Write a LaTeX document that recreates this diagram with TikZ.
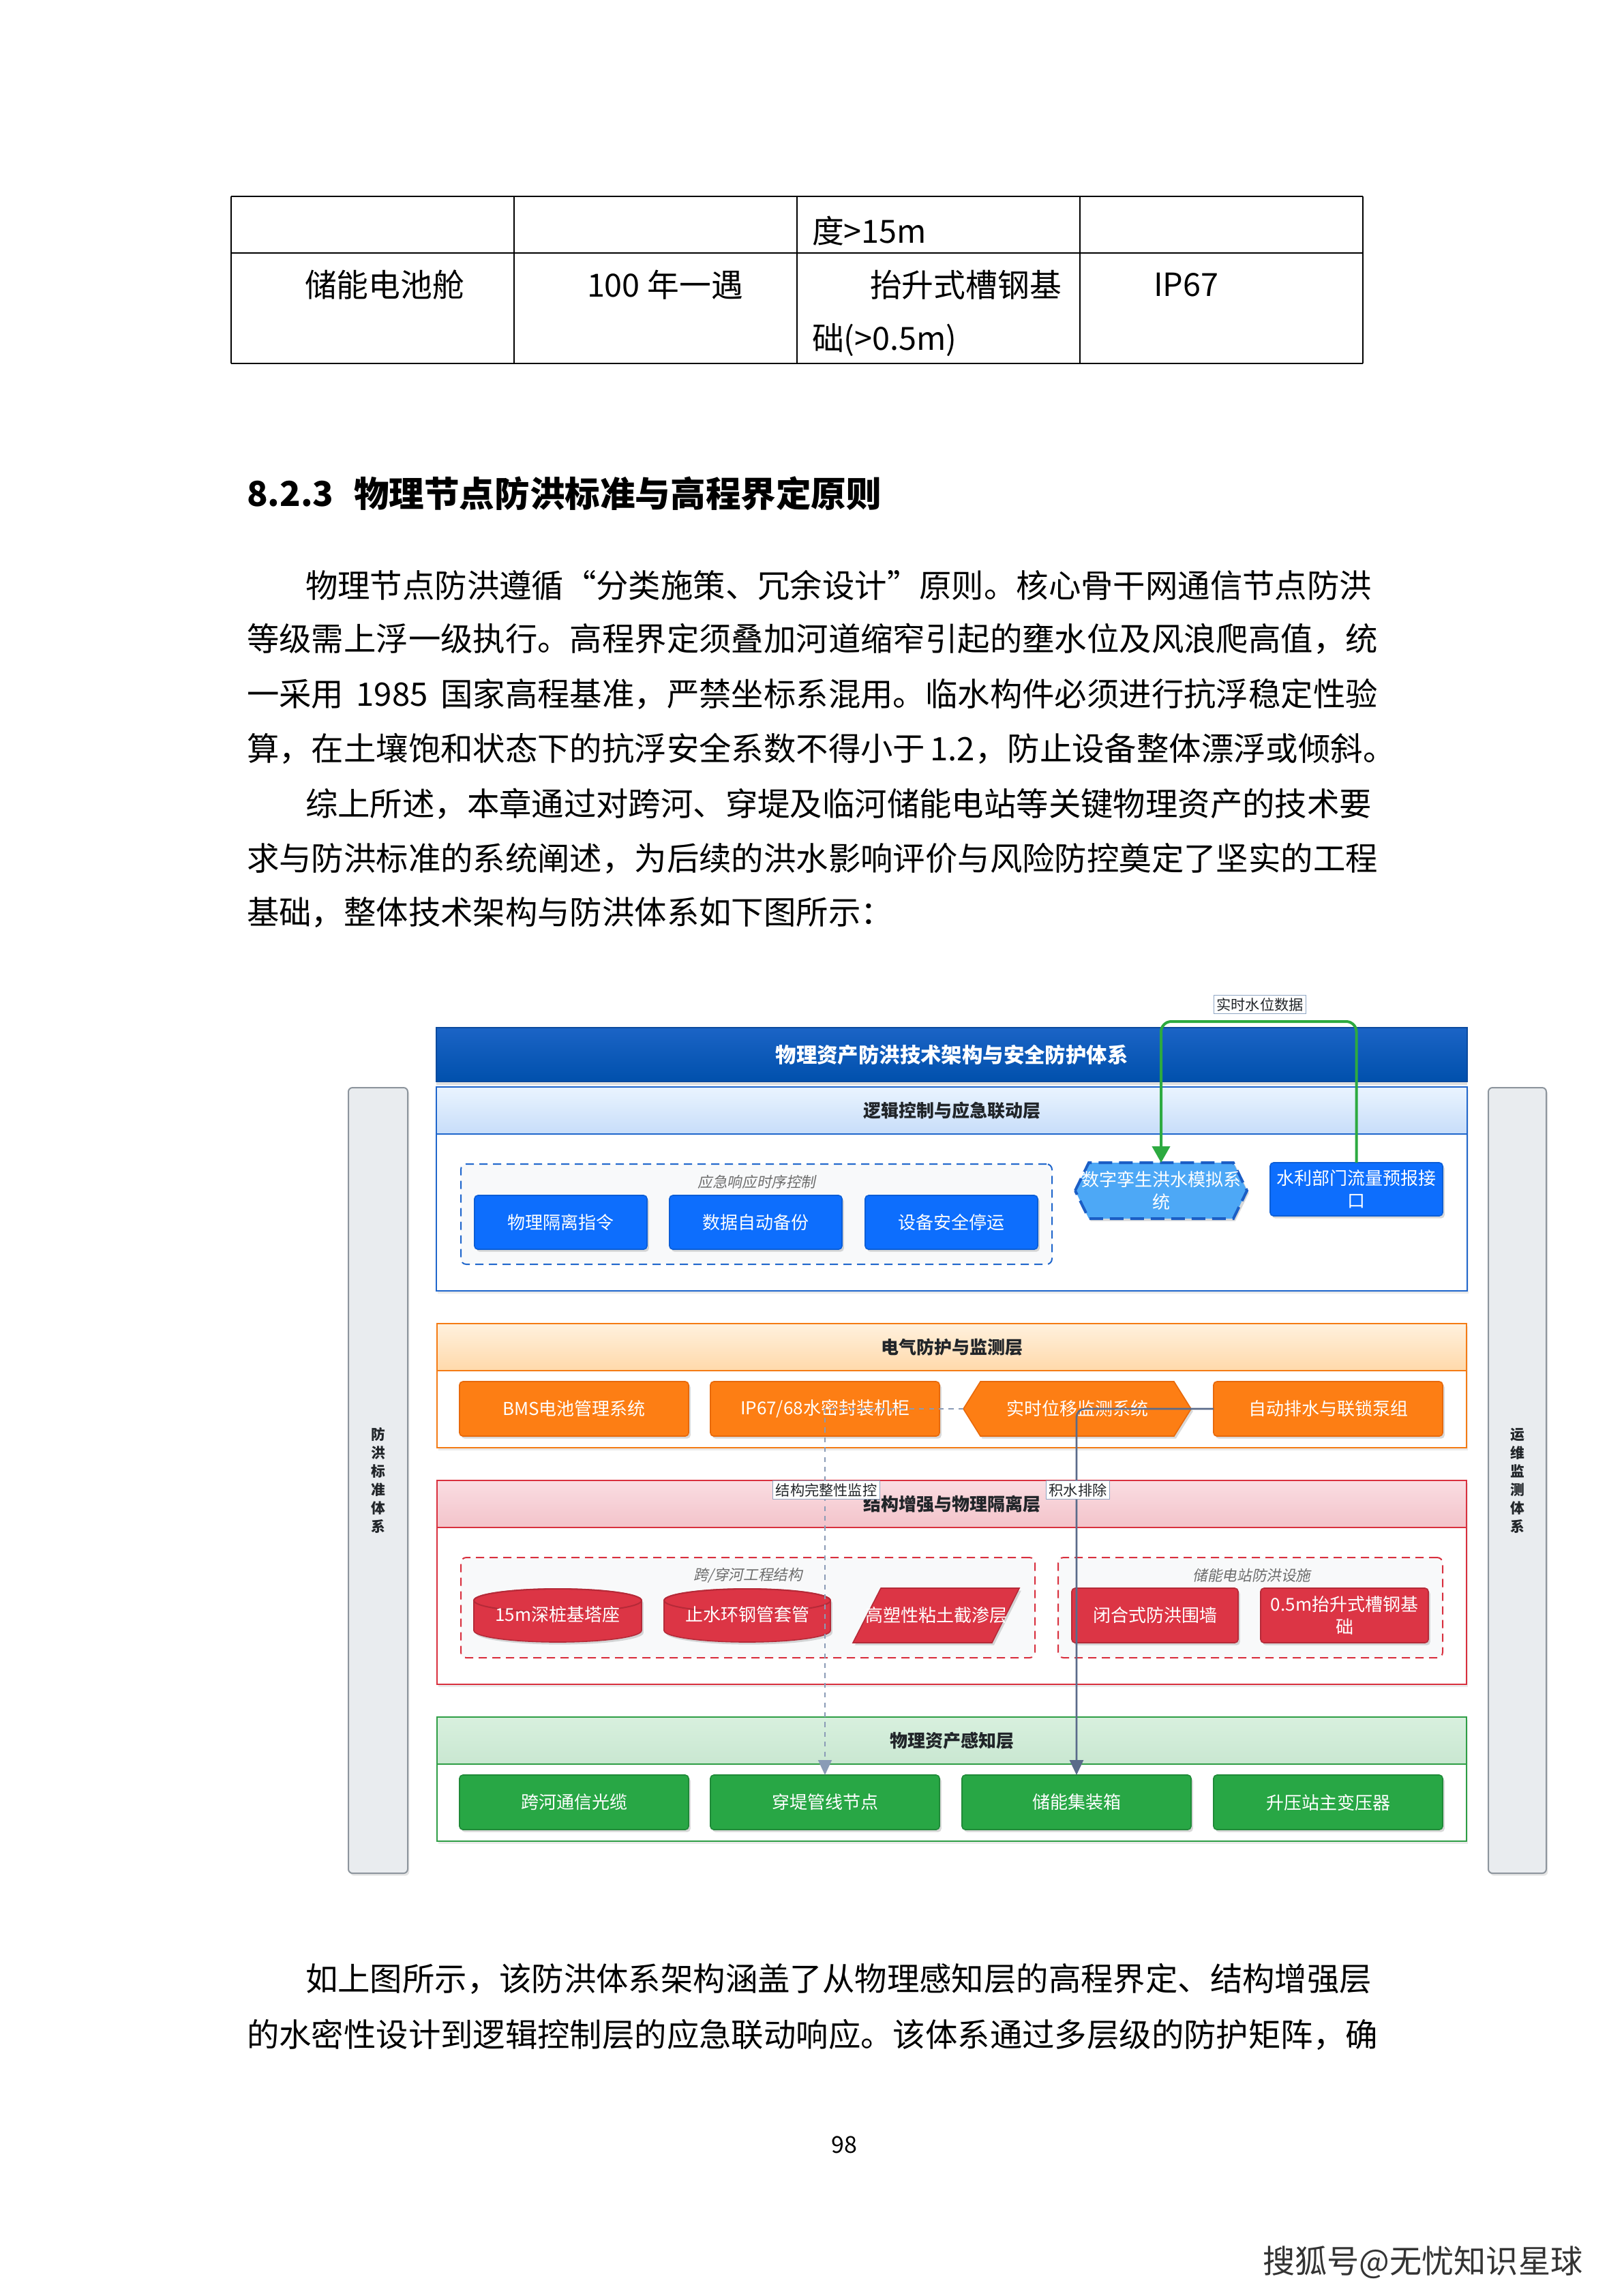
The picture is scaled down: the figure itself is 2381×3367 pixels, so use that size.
\documentclass[tikz,border=0pt]{standalone}
\usepackage{fontspec}
\setmainfont{Noto Sans CJK SC}
\newfontfamily\slcjk{Noto Sans CJK SC}[FakeSlant=0.2]
\usetikzlibrary{arrows.meta,shadows}
\newcommand\fsz[2]{\fontsize{#1}{#2}\selectfont}
\definecolor{ctext}{HTML}{212529}
\definecolor{ctitleA}{HTML}{1B64C6}
\definecolor{ctitleB}{HTML}{0050AC}
\definecolor{ctitleD}{HTML}{0B4A9E}
\definecolor{lbA}{HTML}{EAF4FF}
\definecolor{lbB}{HTML}{C7DDF9}
\definecolor{lbD}{HTML}{1F66CC}
\definecolor{cblue}{HTML}{0D6EFD}
\definecolor{cbluedk}{HTML}{0B5ED7}
\definecolor{hexblue}{HTML}{4DA8F6}
\definecolor{hexblueD}{HTML}{1B5EC5}
\definecolor{loA}{HTML}{FFF1DE}
\definecolor{loB}{HTML}{FFD9AA}
\definecolor{loD}{HTML}{F47B14}
\definecolor{corange}{HTML}{FD7E14}
\definecolor{corangeD}{HTML}{E8690A}
\definecolor{lrA}{HTML}{FADDE2}
\definecolor{lrB}{HTML}{F3C3CA}
\definecolor{lrD}{HTML}{D9303E}
\definecolor{cred}{HTML}{DC3545}
\definecolor{credD}{HTML}{B52A38}
\definecolor{lgA}{HTML}{D8F0DE}
\definecolor{lgB}{HTML}{C9E7D1}
\definecolor{lgD}{HTML}{2E9E45}
\definecolor{cgreen}{HTML}{28A745}
\definecolor{cgreenD}{HTML}{1F8A38}
\definecolor{cside}{HTML}{E9ECEF}
\definecolor{csideD}{HTML}{8D959D}
\definecolor{cgrp}{HTML}{F8F9FA}
\definecolor{cglab}{HTML}{6C6C6C}
\definecolor{cdash}{HTML}{8A9BB6}
\definecolor{cslate}{HTML}{5A6B8A}
\definecolor{cgline}{HTML}{2DAA40}
\definecolor{clabD}{HTML}{8FA6C4}
\definecolor{cmark}{HTML}{333333}
% style, x0, y0, x1, y1, name, text
\newcommand\mkbox[7]{\node[#1, minimum width={(#4-#2)*0.25pt}, minimum height={(#5-#3)*0.25pt}] (#6) at ({(#2+#4)/2},{(#3+#5)/2}) {#7};}
% style, x0, y0, x1, y1, indent
\newcommand\hexpath[6]{\path[#1] (#2,{(#3+#5)/2}) -- ({#2+#6},#3) -- ({#4-#6},#3) -- (#4,{(#3+#5)/2}) -- ({#4-#6},#5) -- ({#2+#6},#5) -- cycle;}
% x0, y0, x1, y1 (cylinder, end radius 16px)
\newcommand\cylpath[4]{%
\path[fill=cred, draw=credD, line width=0.4pt, drop shadow={opacity=0.3,shadow xshift=0.7pt,shadow yshift=-0.9pt}]
 (#1,{#4-17}) arc[start angle=180,end angle=360,x radius={(#3-#1)*0.125pt},y radius=4.25pt]
 -- (#3,{#2+17}) arc[start angle=0,end angle=180,x radius={(#3-#1)*0.125pt},y radius=4.25pt] -- cycle;
\draw[credD, line width=0.5pt] ({(#1+#3)/2},{#2+17}) ellipse[x radius={(#3-#1)*0.125pt},y radius=4.25pt];}
\begin{document}
\begin{tikzpicture}[x=0.25pt,y=-0.25pt,
 every node/.style={inner sep=0pt, outer sep=0pt},
 btext/.style={anchor=west, font=\fsz{11.85pt}{14pt}},
 ttext/.style={font=\fsz{11.7pt}{14pt}},
 tline/.style={line width=0.6pt, black},
 plainnode/.style={align=center},
 titlebar/.style={top color=ctitleA, bottom color=ctitleB, draw=ctitleD, line width=0.5pt, text=white, font=\bfseries\fsz{7.6pt}{9pt}, drop shadow={opacity=0.25,shadow xshift=0pt,shadow yshift=-1.2pt}},
 cont/.style={fill=white, line width=0.5pt, drop shadow={opacity=0.16,shadow xshift=0.6pt,shadow yshift=-0.9pt}},
 hdr/.style={line width=0.5pt, font=\bfseries\fsz{6.5pt}{8pt}, text=ctext},
 box/.style={rounded corners=1.2pt, line width=0.4pt, text=white, font=\fsz{6.5pt}{8.2pt}, align=center, drop shadow={opacity=0.3,shadow xshift=0.7pt,shadow yshift=-0.9pt}},
 btxt/.style={text=white, font=\fsz{6.5pt}{8.2pt}, align=center},
 grp/.style={rounded corners=2pt, dash pattern=on 3pt off 2pt, line width=0.5pt, fill=cgrp},
 glabel/.style={font=\slcjk\fsz{5.4pt}{6pt}, text=cglab},
 clabel/.style={fill=white, draw=clabD, line width=0.3pt, font=\fsz{5.3pt}{6pt}, inner sep=1pt, text=ctext},
 side/.style={rounded corners=1.5pt, fill=cside, draw=csideD, line width=0.5pt, drop shadow={opacity=0.2,shadow xshift=0.6pt,shadow yshift=-0.9pt}},
 sidetext/.style={font=\bfseries\fsz{5.2pt}{6.75pt}, align=center, text=ctext},
 garrow/.style={draw=cgline, line width=1pt, rounded corners=3.75pt, -{Triangle[length=6pt,width=6.5pt]}},
 sarrow/.style={draw=cslate, line width=0.7pt, rounded corners=3pt, -{Triangle[length=5.5pt,width=5pt]}},
 darrow/.style={draw=cdash, line width=0.45pt, dash pattern=on 1.8pt off 1.8pt, -{Triangle[length=5.5pt,width=5pt]}}
]
\fill[white] (0,0) rectangle (2381,3367);
\useasboundingbox (0,0) rectangle (2381,3367);

% ---------- table ----------
\draw[tline] (339,288) -- (1999,288);
\draw[tline] (339,371) -- (1999,371);
\draw[tline] (339,533) -- (1999,533);
\foreach \xx in {339,754,1169,1584,1999} {\draw[tline] (\xx,288) -- (\xx,533);}
\node[ttext, anchor=west] (t1) at (1191,339) {度>15m};
\node[ttext, anchor=west] (t2) at (447,418) {储能电池舱};
\node[ttext, anchor=west] (t3) at (861,418) {100 年一遇};
\node[ttext, anchor=west] (t4) at (1276,418) {抬升式槽钢基};
\node[ttext, anchor=west] (t5) at (1191,499) {础(>0.5m)};
\node[ttext, anchor=west] (t6) at (1692,418) {IP67};

% ---------- heading & text ----------
\node[anchor=west, font=\bfseries\fsz{12.6pt}{14pt}] (hnum) at (362,724) {8.2.3};
\node[anchor=west, font=\bfseries\fsz{12.9pt}{14pt}] (htxt) at (519,724) {物理节点防洪标准与高程界定原则};
\node[btext] (p1) at (448,858) {物理节点防洪遵循“分类施策、冗余设计”原则。核心骨干网通信节点防洪};
\node[btext] (p2) at (362,937) {等级需上浮一级执行。高程界定须叠加河道缩窄引起的壅水位及风浪爬高值，统};
\node[btext] (p3) at (362,1018) {\hbox to 414.75pt{一采用 1985 国家高程基准，严禁坐标系混用。临水构件必须进行抗浮稳定性验}};
\node[btext] (p4) at (362,1098) {\hbox to 414.75pt{算，在土壤饱和状态下的抗浮安全系数不得小于 1.2，防止设备整体漂浮或倾斜。}};
\node[btext] (p5) at (448,1179) {综上所述，本章通过对跨河、穿堤及临河储能电站等关键物理资产的技术要};
\node[btext] (p6) at (362,1259) {求与防洪标准的系统阐述，为后续的洪水影响评价与风险防控奠定了坚实的工程};
\node[btext] (p7) at (362,1338) {基础，整体技术架构与防洪体系如下图所示：};
\node[btext] (q1) at (448,2902) {如上图所示，该防洪体系架构涵盖了从物理感知层的高程界定、结构增强层};
\node[btext] (q2) at (362,2984) {的水密性设计到逻辑控制层的应急联动响应。该体系通过多层级的防护矩阵，确};
\node[font=\fsz{8.5pt}{10pt}] (pg) at (1238,3145) {98};
\node[font=\fsz{11.8pt}{13pt}, text=cmark, anchor=west] (mark) at (1852,3318) {搜狐号@无忧知识星球};

% ---------- diagram: side bars ----------
\mkbox{side}{511}{1595}{598}{2747}{sideL}{}
\mkbox{side}{2183}{1595}{2268}{2747}{sideR}{}
\node[sidetext] (sideLt) at (sideL) {防\\洪\\标\\准\\体\\系};
\node[sidetext] (sideRt) at (sideR) {运\\维\\监\\测\\体\\系};

% ---------- title ----------
\mkbox{titlebar}{640}{1507}{2152}{1586}{title}{物理资产防洪技术架构与安全防护体系}

% ---------- layer 1 ----------
\mkbox{cont,draw=lbD}{640}{1594}{2152}{1893}{L1}{}
\mkbox{hdr,draw=lbD,top color=lbA,bottom color=lbB}{640}{1594}{2152}{1663}{L1h}{逻辑控制与应急联动层}
\mkbox{grp,draw=lbD}{676}{1707}{1543}{1854}{G1}{}
\node[glabel] (G1l) at (1110,1733) {应急响应时序控制};
\mkbox{box,fill=cblue,draw=cbluedk}{696}{1753}{949}{1832}{b1}{物理隔离指令}
\mkbox{box,fill=cblue,draw=cbluedk}{982}{1753}{1235}{1832}{b2}{数据自动备份}
\mkbox{box,fill=cblue,draw=cbluedk}{1269}{1753}{1522}{1832}{b3}{设备安全停运}
\hexpath{fill=hexblue,draw=hexblueD,line width=1pt,dash pattern=on 5pt off 2.5pt,drop shadow={opacity=0.3,shadow xshift=0.7pt,shadow yshift=-0.9pt}}{1577}{1705}{1829}{1787}{20}
\mkbox{btxt}{1577}{1705}{1829}{1787}{hexA}{数字孪生洪水模拟系\\统}
\mkbox{box,fill=cblue,draw=cbluedk}{1863}{1705}{2116}{1783}{water}{水利部门流量预报接\\口}

% ---------- layer 2 ----------
\mkbox{cont,draw=loD}{641}{1941}{2151}{2123}{L2}{}
\mkbox{hdr,draw=loD,top color=loA,bottom color=loB}{641}{1941}{2151}{2010}{L2h}{电气防护与监测层}
\mkbox{box,fill=corange,draw=corangeD}{674}{2026}{1010}{2106}{bms}{BMS电池管理系统}
\mkbox{box,fill=corange,draw=corangeD}{1042}{2026}{1378}{2106}{ip}{IP67/68水密封装机柜}
\hexpath{fill=corange,draw=corangeD,line width=0.4pt,drop shadow={opacity=0.3,shadow xshift=0.7pt,shadow yshift=-0.9pt}}{1413}{2026}{1747}{2106}{25}
\mkbox{btxt}{1413}{2026}{1747}{2106}{hexB}{实时位移监测系统}
\mkbox{box,fill=corange,draw=corangeD}{1780}{2026}{2116}{2106}{pump}{自动排水与联锁泵组}

% ---------- layer 3 ----------
\mkbox{cont,draw=lrD}{641}{2171}{2151}{2470}{L3}{}
\mkbox{hdr,draw=lrD,top color=lrA,bottom color=lrB}{641}{2171}{2151}{2240}{L3h}{结构增强与物理隔离层}
\mkbox{grp,draw=lrD}{676}{2284}{1518}{2431}{G2}{}
\node[glabel] (G2l) at (1097,2310) {跨/穿河工程结构};
\mkbox{grp,draw=lrD}{1552}{2284}{2116}{2431}{G3}{}
\node[glabel] (G3l) at (1836,2310) {储能电站防洪设施};
\cylpath{695}{2330}{941}{2408}
\mkbox{btxt}{695}{2332}{941}{2404}{cy1}{15m深桩基塔座}
\cylpath{974}{2330}{1218}{2408}
\mkbox{btxt}{974}{2332}{1218}{2404}{cy2}{止水环钢管套管}
\path[fill=cred,draw=credD,line width=0.4pt,drop shadow={opacity=0.3,shadow xshift=0.7pt,shadow yshift=-0.9pt}] (1251,2409) -- (1292,2329) -- (1495,2329) -- (1455,2409) -- cycle;
\mkbox{btxt}{1251}{2329}{1495}{2409}{para}{高塑性粘土截渗层}
\mkbox{box,fill=cred,draw=credD}{1572}{2329}{1816}{2409}{wall}{闭合式防洪围墙}
\mkbox{box,fill=cred,draw=credD}{1849}{2329}{2095}{2409}{lift}{0.5m抬升式槽钢基\\础}

% ---------- layer 4 ----------
\mkbox{cont,draw=lgD}{641}{2518}{2151}{2700}{L4}{}
\mkbox{hdr,draw=lgD,top color=lgA,bottom color=lgB}{641}{2518}{2151}{2587}{L4h}{物理资产感知层}
\mkbox{box,fill=cgreen,draw=cgreenD}{674}{2603}{1010}{2683}{cable}{跨河通信光缆}
\mkbox{box,fill=cgreen,draw=cgreenD}{1042}{2603}{1378}{2683}{pipe}{穿堤管线节点}
\mkbox{box,fill=cgreen,draw=cgreenD}{1411}{2603}{1747}{2683}{cont}{储能集装箱}
\mkbox{box,fill=cgreen,draw=cgreenD}{1780}{2603}{2116}{2683}{trans}{升压站主变压器}

% ---------- connectors ----------
\coordinate (wtop) at (1990,1498);
\draw[garrow] (water.north) -- (water.north |- wtop) -| (hexA.north);
\node[clabel] (lab1) at (1848,1473) {实时水位数据};
\draw[darrow] (hexB.west) -| (pipe.north);
\node[clabel] (lab2) at (1212,2185) {结构完整性监控};
\draw[sarrow] (pump.west) -| (cont.north);
\node[clabel] (lab3) at (1581,2185) {积水排除};
\end{tikzpicture}
\end{document}
